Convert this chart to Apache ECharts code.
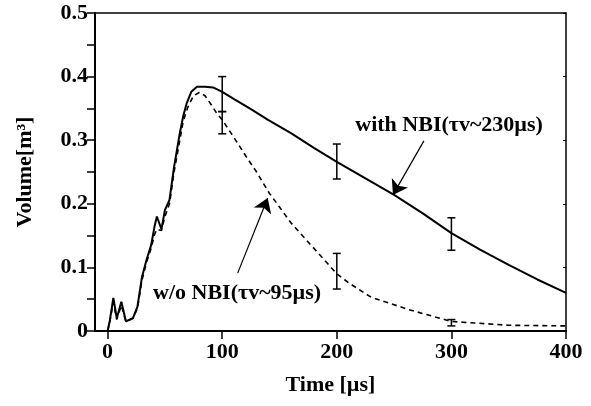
<!DOCTYPE html>
<html>
<head>
<meta charset="utf-8">
<script src="https://cdn.jsdelivr.net/npm/echarts@6/dist/echarts.min.js"></script>
<style>html,body{margin:0;padding:0;background:#fff}#c{width:591px;height:406px}</style>
</head>
<body>
<div id="c"></div>
<script>
var xTicks = [0, 100, 200, 300, 400];
var timeWith = [0,2,5,8,12,16,22,26,30,34,38,41,43,47,50,54,58,63,66,69,73,78,85,92,100,110,124,140,160,180,200,225,250,275,300,325,350,375,400];
var volWith = [0,0.017,0.052,0.02,0.046,0.015,0.02,0.038,0.085,0.112,0.135,0.165,0.18,0.16,0.19,0.206,0.258,0.311,0.338,0.358,0.376,0.384,0.384,0.383,0.376,0.365,0.35,0.332,0.311,0.288,0.266,0.240,0.214,0.185,0.154,0.128,0.104,0.081,0.06];
var timeWo = [0,2,5,8,12,16,22,26,30,34,38,41,43,47,50,54,58,63,66,70,75,80,85,90,95,100,110,121,130,141,150,160,179,200,211,230,264,300,350,400];
var volWo = [0,0.015,0.045,0.018,0.04,0.015,0.02,0.035,0.08,0.108,0.13,0.152,0.16,0.158,0.18,0.2,0.25,0.3,0.33,0.352,0.37,0.375,0.37,0.357,0.343,0.332,0.305,0.274,0.25,0.217,0.195,0.17,0.132,0.09,0.075,0.053,0.033,0.015,0.009,0.008];
var errTime = [100, 200, 300];
var errWithLow = [0.345, 0.239, 0.127];
var errWithHigh = [0.400, 0.294, 0.178];
var errWoLow = [0.31, 0.066, 0.008];
var errWoHigh = [0.345, 0.122, 0.018];
var labelWith = 'with NBI(τv~230µs)';
var labelWo = 'w/o NBI(τv~95µs)';
var labelWithPos = [298, 0.324];
var labelWoPos = [113, 0.06];
var arrowWith = [[276, 0.299], [249, 0.214]];
var arrowWo = [[113.5, 0.091], [139.7, 0.209]];

var FONT = 'Liberation Serif';
var FS = 22;
function pairs(xs, ys) { return xs.map(function (x, i) { return [x, ys[i]]; }); }
function errData(lo, hi) { return errTime.map(function (t, i) { return [t, lo[i], hi[i]]; }); }
function errRender(params, api) {
  var x = api.value(0);
  var p1 = api.coord([x, api.value(1)]);
  var p2 = api.coord([x, api.value(2)]);
  var w = 4;
  var st = { stroke: '#000', lineWidth: 1.5 };
  return { type: 'group', children: [
    { type: 'line', shape: { x1: p1[0], y1: p1[1], x2: p2[0], y2: p2[1] }, style: st },
    { type: 'line', shape: { x1: p1[0] - w, y1: p1[1], x2: p1[0] + w, y2: p1[1] }, style: st },
    { type: 'line', shape: { x1: p2[0] - w, y1: p2[1], x2: p2[0] + w, y2: p2[1] }, style: st }
  ]};
}
var chart = echarts.init(document.getElementById('c'), null, { renderer: 'canvas' });
var txt = { color: '#000', fontFamily: FONT, fontSize: FS, fontWeight: 'bold' };
chart.setOption({
  animation: false,
  backgroundColor: '#fff',
  grid: { left: 95, right: 25, top: 13, bottom: 75 },
  xAxis: [{
    type: 'value', min: -11, max: 400, position: 'bottom',
    name: 'Time [µs]', nameLocation: 'middle', nameGap: 43,
    nameTextStyle: txt,
    axisLine: { show: true, onZero: false, lineStyle: { color: '#000', width: 2 } },
    axisTick: { show: true, inside: false, length: 8, customValues: xTicks, lineStyle: { color: '#000', width: 1.5 } },
    axisLabel: { customValues: xTicks, margin: 10, color: '#000', fontFamily: FONT, fontSize: FS, fontWeight: 'bold' },
    splitLine: { show: false }
  }, {
    type: 'value', min: -11, max: 400, position: 'top',
    axisLine: { show: true, onZero: false, lineStyle: { color: '#000', width: 1.5 } },
    axisTick: { show: false }, axisLabel: { show: false }, splitLine: { show: false }
  }],
  yAxis: [{
    type: 'value', min: 0, max: 0.5, interval: 0.1, position: 'left',
    name: 'Volume[m³]', nameLocation: 'middle', nameGap: 59,
    nameTextStyle: txt,
    axisLine: { show: true, onZero: false, lineStyle: { color: '#000', width: 2 } },
    axisTick: { show: true, inside: false, length: 8, lineStyle: { color: '#000', width: 1.5 } },
    minorTick: { show: true, splitNumber: 2, length: 8, lineStyle: { color: '#000', width: 1.5 } },
    axisLabel: { margin: 7, color: '#000', fontFamily: FONT, fontSize: FS, fontWeight: 'bold',
      formatter: function (v) { return v === 0 ? '0' : v.toFixed(1); } },
    splitLine: { show: false }
  }, {
    type: 'value', min: 0, max: 0.5, interval: 0.1, position: 'right',
    axisLine: { show: true, onZero: false, lineStyle: { color: '#000', width: 1.5 } },
    axisTick: { show: true, inside: true, length: 3, lineStyle: { color: '#000', width: 1 } },
    axisLabel: { show: false }, splitLine: { show: false }
  }],
  series: [{
    type: 'line', data: pairs(timeWith, volWith), showSymbol: false, symbol: 'none',
    lineStyle: { color: '#000', width: 2 },
    markLine: {
      silent: true, symbol: ['none', 'arrow'], symbolSize: 14,
      itemStyle: { color: '#000' },
      lineStyle: { color: '#000', width: 1.2, type: 'solid' },
      label: { show: false },
      data: [[{ coord: arrowWith[0] }, { coord: arrowWith[1] }], [{ coord: arrowWo[0] }, { coord: arrowWo[1] }]]
    }
  }, {
    type: 'line', data: pairs(timeWo, volWo), showSymbol: false, symbol: 'none',
    lineStyle: { color: '#000', width: 1.6, type: [5, 4] }
  }, {
    type: 'custom', renderItem: errRender, data: errData(errWithLow, errWithHigh), encode: { x: 0, y: [1, 2] }
  }, {
    type: 'custom', renderItem: errRender, data: errData(errWoLow, errWoHigh), encode: { x: 0, y: [1, 2] }
  }, {
    type: 'scatter', symbolSize: 0, silent: true,
    itemStyle: { opacity: 1, color: '#000' },
    data: [{ value: labelWithPos, name: labelWith }, { value: labelWoPos, name: labelWo }],
    label: { show: true, position: 'inside', formatter: '{b}', color: '#000', opacity: 1, textBorderWidth: 0,
      fontFamily: FONT, fontSize: FS, fontWeight: 'bold' }
  }]
});
</script>
</body>
</html>
